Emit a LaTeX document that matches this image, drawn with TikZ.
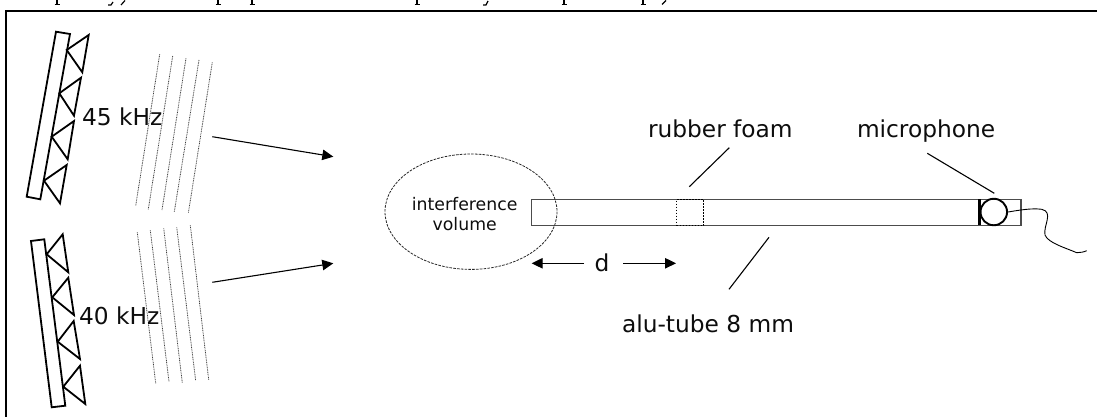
\documentclass[tikz,border=0pt]{standalone}
\usepackage{fontspec}
\setmainfont{DejaVu Sans}
\usetikzlibrary{arrows.meta}
\tikzset{
  lab/.style={inner sep=0pt,outer sep=0pt,anchor=base west,text=black!95,font=\fontsize{23.3}{27}\selectfont},
  smalllab/.style={inner sep=0pt,outer sep=0pt,anchor=base,text=black!95,font=\fontsize{17.3}{20}\selectfont},
  frameline/.style={line width=2pt,black},
  transducer/.style={line width=1.8pt,black,line join=miter},
  wave/.style={line width=0.8pt,black!75,dash pattern=on 0.9pt off 0.8pt},
  leader/.style={line width=1.1pt,black},
  flow/.style={line width=1.1pt,black,-{Triangle[length=11pt,width=10.5pt]}},
  dim/.style={line width=1.1pt,black,-{Triangle[length=11pt,width=10.5pt]}},
  descender/.style={line width=1.2pt,black},
}
\begin{document}
\begin{tikzpicture}[x=1pt,y=-1pt]
\useasboundingbox (0,0) rectangle (1097,417);
% clipped line of text above the frame
\foreach \px in {57,218,252,417,564,643}{
  \draw[descender] (\px,0) -- (\px,4.5) (\px-2.5,4.8) -- (\px+2.5,4.8);
}
\draw[descender] (113,2) -- (111,5) -- (108,5);
\draw[descender] (125,0.5) -- (121,5);
\draw[descender] (488,1) -- (486,5) -- (483,5);
\draw[descender] (666,0.5) -- (662,4.5);
% frame
\draw[frameline] (1097,11.5) -- (5.5,11.5) -- (5.5,417);
% upper array
\draw[transducer] (56,31.7) -- (70,34) -- (40.3,199.3) -- (26.7,196.7) -- cycle;
\draw[transducer] (66.7,50) -- (88.7,35) -- (82.3,72.3) -- cycle;
\draw[transducer] (59.3,93.3) -- (81,77.7) -- (74,115.7) -- cycle;
\draw[transducer] (51.7,136.7) -- (74,121) -- (67.7,159.3) -- cycle;
\draw[transducer] (44,180.7) -- (66.7,165) -- (60,203.3) -- cycle;
% lower array
\draw[transducer] (31,241) -- (44.3,239.3) -- (65.3,405.7) -- (51.7,407.3) -- cycle;
\draw[transducer] (46.7,254.3) -- (62.7,234.3) -- (68.3,272.3) -- cycle;
\draw[transducer] (52.3,297.3) -- (68.3,277.7) -- (74,315) -- cycle;
\draw[transducer] (57.7,341.7) -- (73.7,321) -- (80,359) -- cycle;
\draw[transducer] (63.3,386.7) -- (80,365.7) -- (85.3,404) -- cycle;
% wave fronts
\draw[wave] (159.7,54.3) -- (135.7,205.7);
\draw[wave] (172.7,56) -- (148.3,209.3);
\draw[wave] (186,58.3) -- (162,210);
\draw[wave] (199,60) -- (174.3,211.7);
\draw[wave] (212.3,62.3) -- (188.3,213.3);
\draw[wave] (137.3,232.3) -- (155.7,383.3);
\draw[wave] (150.3,230.3) -- (169,381.7);
\draw[wave] (163.7,228.3) -- (182.3,382.7);
\draw[wave] (176.7,227.3) -- (195.7,380.7);
\draw[wave] (190.3,225.3) -- (208.7,379.7);
% labels
\node[lab] (f45) at (82,126) {45 kHz};
\node[lab] (f40) at (79,324) {40 kHz};
% arrows
\coordinate (a1s) at (212.3,136.7); \coordinate (a1e) at (333.3,156.7);
\coordinate (a2s) at (212.3,282.3); \coordinate (a2e) at (333.3,263.3);
\draw[flow] (a1s) -- (a1e);
\draw[flow] (a2s) -- (a2e);
% tube
\node[draw=black!70,line width=1.3pt,inner sep=0pt,minimum width=489.6pt,minimum height=26pt,anchor=north west] (tube) at (530.7,199) {};
\node[draw=black,line width=1.3pt,dash pattern=on 1.4pt off 1.6pt,inner sep=0pt,minimum width=27pt,minimum height=26pt,anchor=north west] (foam) at (676,199) {};
% interference volume
\draw[line width=0.8pt,black!85,dash pattern=on 2.6pt off 1.2pt] (471,211.7) ellipse [x radius=86,y radius=57.7];
\node[smalllab] (iv1) at (464.7,210) {interference};
\node[smalllab] (iv2) at (464.7,230.7) {volume};
% microphone
\node[draw=black,line width=1.9pt,circle,inner sep=0pt,minimum size=26.5pt] (mic) at (993.8,212) {};
\draw[line width=2.8pt,black] (979.3,199) -- (979.3,225);
\coordinate (wend) at (1086.7,250.7);
\draw[line width=0.9pt,black] (mic.east) .. controls (1020,210) and (1032,208) .. (1041.7,209.3)
  .. controls (1054,212) and (1043,226) .. (1045,235)
  .. controls (1048,243) and (1066,248) .. (1076.7,252.7)
  .. controls (1080,252.7) and (1084,252) .. (wend);
% top labels
\node[lab] (rf) at (648,138) {rubber foam};
\node[lab] (mp) at (857,138) {microphone};
\node[lab] (al) at (622,332.5) {alu-tube 8 mm};
\coordinate (rfs) at (729.3,147.7); \coordinate (rfe) at (689.3,186.7);
\coordinate (mps) at (927.3,153.3); \coordinate (mpe) at (994.3,193.3);
\coordinate (als) at (769,237.3); \coordinate (ale) at (729,289.3);
\draw[leader] (rfs) -- (rfe);
\draw[leader] (mps) -- (mpe);
\draw[leader] (als) -- (ale);
% d
\node[lab,anchor=base] (d) at (602,271.7) {d};
\coordinate (dl) at (531.7,263.3); \coordinate (dr) at (676,263.3);
\coordinate (dls) at (584,263.3); \coordinate (drs) at (623,263.3);
\draw[dim] (dls) -- (dl);
\draw[dim] (drs) -- (dr);
\end{tikzpicture}
\end{document}
